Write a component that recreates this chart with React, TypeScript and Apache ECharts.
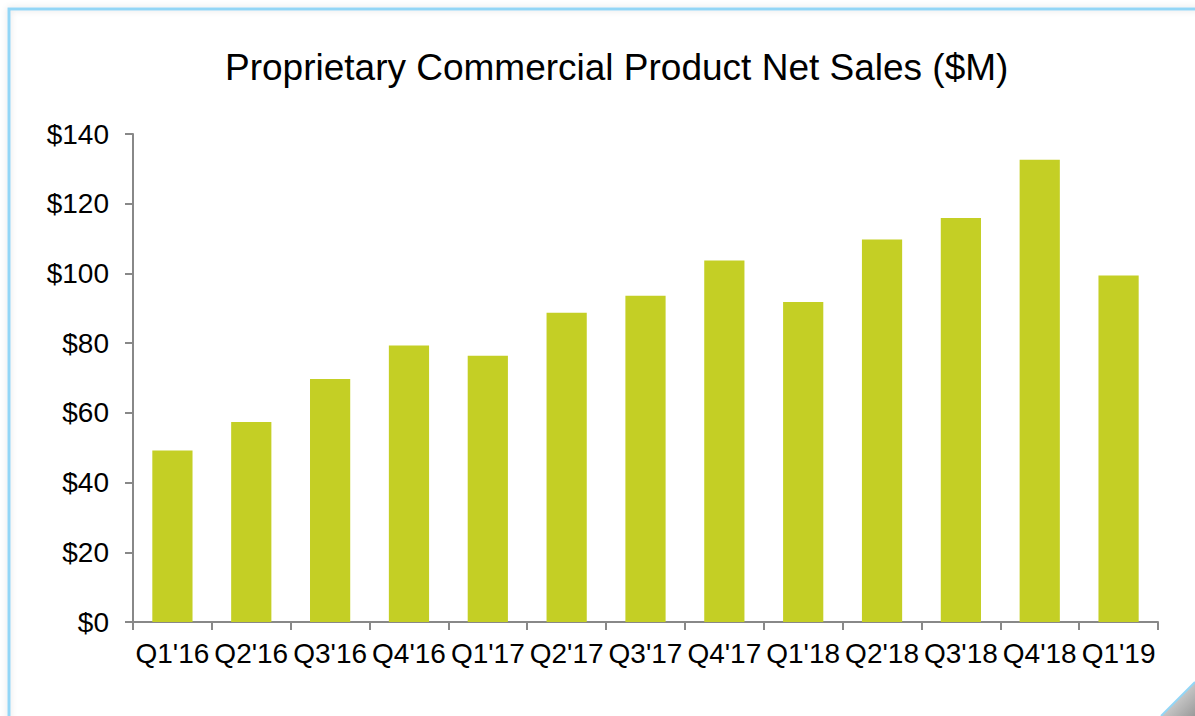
import React, { useEffect, useRef } from "react";
import * as echarts from "echarts";

const categories = ["Q1'16", "Q2'16", "Q3'16", "Q4'16", "Q1'17", "Q2'17", "Q3'17", "Q4'17", "Q1'18", "Q2'18", "Q3'18", "Q4'18", "Q1'19"];
const netSales = [49.2, 57.4, 69.7, 79.3, 76.4, 88.7, 93.6, 103.7, 91.8, 109.7, 115.9, 132.6, 99.4];
const yTicks = { min: 0, max: 140, interval: 20 };
const title = "Proprietary Commercial Product Net Sales ($M)";

export default function App() {
  const ref = useRef<HTMLDivElement>(null);
  useEffect(() => {
    if (!ref.current) return;
    const chart = echarts.init(ref.current, null, { renderer: "svg" });
    const font = "Arial, 'Liberation Sans', sans-serif";
    chart.setOption({
      animation: false,
      backgroundColor: "#ffffff",
      title: {
        text: title,
        left: 220,
        top: 44,
        textStyle: { fontFamily: font, fontSize: 37, fontWeight: "normal", color: "#000" },
      },
      grid: { left: 133, right: 37, top: 134, bottom: 94 },
      xAxis: {
        type: "category",
        data: categories,
        axisLine: { lineStyle: { color: "#888888", width: 2 } },
        axisTick: { show: true, length: 8, lineStyle: { color: "#888888", width: 2 } },
        axisLabel: { fontFamily: font, fontSize: 28, color: "#000", margin: 17, interval: 0 },
      },
      yAxis: {
        type: "value",
        min: yTicks.min,
        max: yTicks.max,
        interval: yTicks.interval,
        splitLine: { show: false },
        axisLine: { show: true, lineStyle: { color: "#888888", width: 2 } },
        axisTick: { show: true, length: 8, lineStyle: { color: "#888888", width: 2 } },
        axisLabel: { fontFamily: font, fontSize: 28, color: "#000", margin: 24, formatter: (v: number) => "$" + v },
      },
      series: [
        {
          type: "bar",
          data: netSales,
          barWidth: "51%",
          itemStyle: { color: "#c4cf25" },
        },
      ],
      graphic: [
        {
          type: "rect",
          shape: { x: 9, y: 9, width: 1300, height: 900 },
          style: { fill: "none", stroke: "#93d6f6", lineWidth: 3, shadowBlur: 6, shadowColor: "rgba(0,0,0,0.12)" },
          silent: true,
        },
        {
          type: "polygon",
          shape: { points: [[1195, 682], [1161, 716], [1195, 716]] },
          style: {
            fill: new echarts.graphic.LinearGradient(0, 0, 1, 1, [
              { offset: 0, color: "#f2f2f2" },
              { offset: 1, color: "#9a9a9a" },
            ]),
          },
          silent: true,
        },
        {
          type: "line",
          shape: { x1: 1195, y1: 682, x2: 1161, y2: 716 },
          style: { stroke: "#93d6f6", lineWidth: 2 },
          silent: true,
        },
      ],
    });
    return () => chart.dispose();
  }, []);
  return <div ref={ref} style={{ position: "absolute", left: 0, top: 0, width: 1195, height: 716 }} />;
}
